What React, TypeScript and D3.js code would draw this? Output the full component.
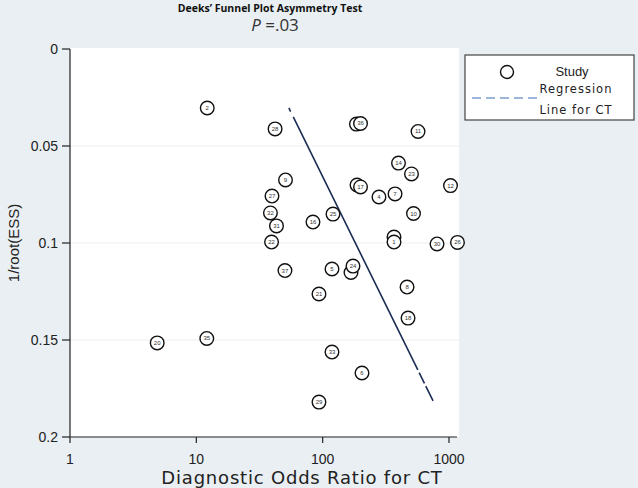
import React from "react";
import * as d3 from "d3";

// study labels, diagnostic odds ratio, 1/root(ESS)
const studyLabels = ["3", "2", "28", "9", "27", "32", "31", "22", "16", "25", "37", "21", "5", "34", "24", "36", "11", "14", "23", "15", "17", "4", "7", "10", "12", "13", "1", "30", "26", "8", "18", "20", "35", "33", "6", "29"];
const dorValues = [185, 12.2, 42, 50.8, 39.7, 38.6, 43.1, 39.4, 83.8, 120.7, 50.3, 93.5, 118.5, 167.6, 173.8, 199.4, 568.6, 398.4, 504.8, 187, 199.4, 279, 374, 523.6, 1028, 367, 367, 804, 1167, 465.5, 474, 4.9, 12.1, 118.5, 204.8, 93.5];
const invRootEss = [0.0387, 0.0304, 0.0412, 0.0675, 0.0758, 0.0845, 0.0912, 0.0995, 0.0892, 0.0851, 0.1142, 0.1263, 0.1134, 0.1152, 0.1119, 0.0384, 0.0425, 0.0588, 0.0644, 0.0701, 0.0711, 0.0763, 0.0747, 0.0848, 0.0704, 0.0969, 0.0995, 0.1005, 0.0997, 0.1227, 0.1387, 0.1515, 0.1492, 0.1562, 0.167, 0.182];
// studies whose number is covered by an overlapping circle
const coveredLabels = ["3", "34", "15", "13"];

// regression line end points
const regDor = [54, 748];
const regEss = [0.0304, 0.1814];

const xTicks = [1, 10, 100, 1000];
const yTicks = [0, 0.05, 0.1, 0.15, 0.2];
const gridTicks = [0.05, 0.1, 0.15];

const App = () => {
  const width = 638;
  const height = 488;
  const left = 70;
  const top = 49;
  const bottom = 437;

  const x = d3.scaleLog().domain([1, 1000]).range([left, 449]);
  const y = d3.scaleLinear().domain([0, 0.2]).range([top, bottom]);
  const plotRight = 459;

  const regLine = d3
    .line<number>()
    .x((i) => x(regDor[i]))
    .y((i) => y(regEss[i]));

  const tickFont = "'Liberation Sans', Arial, sans-serif";
  const gulimish = "'DejaVu Sans', sans-serif";

  return (
    <svg
      width={width}
      height={height}
      style={{ position: "fixed", left: 0, top: 0, background: "#e9eff2" }}
    >
      <rect x={0} y={0} width={width} height={height} fill="#e9eff2" />
      {/* plot area */}
      <rect x={left} y={top - 1} width={plotRight - left} height={bottom - top + 1} fill="#ffffff" />
      {gridTicks.map((t) => (
        <line key={t} x1={left} x2={plotRight} y1={y(t)} y2={y(t)} stroke="#eaeef1" strokeWidth={1} />
      ))}

      {/* titles */}
      <text x={270} y={12} textAnchor="middle" fontFamily="'Open Sans', sans-serif" fontWeight="bold" fontSize={10.5} fill="#111">
        Deeks’ Funnel Plot Asymmetry Test
      </text>
      <text x={275} y={31} textAnchor="middle" fontFamily="'Open Sans', sans-serif" fontSize={17} fill="#333">
        <tspan fontStyle="italic">P</tspan> =.03
      </text>

      {/* y axis */}
      <line x1={left} x2={left} y1={top} y2={bottom} stroke="#222" strokeWidth={1.2} />
      {yTicks.map((t) => (
        <g key={t}>
          <line x1={left - 8} x2={left} y1={y(t)} y2={y(t)} stroke="#222" strokeWidth={1.2} />
          <text x={left - 12} y={y(t)} dy="0.35em" textAnchor="end" fontFamily={tickFont} fontSize={14} fill="#222">
            {t === 0 ? "0" : String(t)}
          </text>
        </g>
      ))}
      <text
        transform={`translate(19, ${(top + bottom) / 2}) rotate(-90)`}
        textAnchor="middle"
        fontFamily={tickFont}
        fontSize={15}
        fill="#222"
      >
        1/root(ESS)
      </text>

      {/* x axis */}
      <line x1={left} x2={457} y1={bottom} y2={bottom} stroke="#222" strokeWidth={1.2} />
      {xTicks.map((t) => (
        <g key={t}>
          <line x1={x(t)} x2={x(t)} y1={bottom} y2={bottom + 6} stroke="#222" strokeWidth={1.2} />
          <text x={x(t)} y={bottom + 27} textAnchor="middle" fontFamily={tickFont} fontSize={14} fill="#222">
            {t}
          </text>
        </g>
      ))}
      <text x={302} y={484} textAnchor="middle" fontFamily={gulimish} fontSize={18} letterSpacing={0.8} fill="#222">
        Diagnostic Odds Ratio for CT
      </text>

      {/* regression line */}
      <path
        d={regLine([0, 1]) || ""}
        fill="none"
        stroke="#1c2d55"
        strokeWidth={1.6}
        strokeDasharray="4 6 282 3 12 3 18"
      />

      {/* studies */}
      {studyLabels.map((lab, i) => (
        <g key={i} transform={`translate(${x(dorValues[i])}, ${y(invRootEss[i])})`}>
          <circle r={6.8} fill="#ffffff" stroke="#111" strokeWidth={1.4} />
          {!coveredLabels.includes(lab) && (
            <text y={2} textAnchor="middle" fontFamily={tickFont} fontSize={6} fill="#333">
              {lab}
            </text>
          )}
        </g>
      ))}

      {/* legend */}
      <rect x={465} y={55} width={169} height={65} fill="#ffffff" stroke="#444" strokeWidth={1.2} />
      <circle cx={507} cy={72} r={6.5} fill="#ffffff" stroke="#111" strokeWidth={1.4} />
      <text x={572} y={76} textAnchor="middle" fontFamily={tickFont} fontSize={13} fill="#222">
        Study
      </text>
      <text x={576} y={93} textAnchor="middle" fontFamily={gulimish} fontSize={11.5} letterSpacing={1} fill="#222">
        Regression
      </text>
      <line x1={472} x2={542} y1={98} y2={98} stroke="#3b6fb3" strokeWidth={1.2} strokeDasharray="9 5" />
      <text x={576} y={114} textAnchor="middle" fontFamily={gulimish} fontSize={11.5} letterSpacing={1} fill="#222">
        Line for CT
      </text>
    </svg>
  );
};

export default App;
